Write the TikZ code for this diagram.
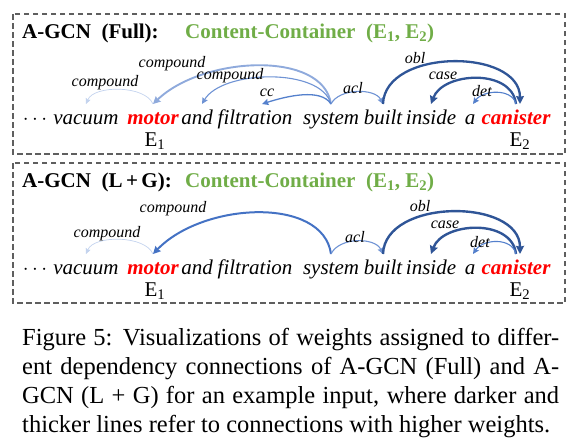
\documentclass[tikz,border=0pt]{standalone}
\usepackage{fontspec}
\setmainfont{Liberation Serif}
\usepackage{xcolor}
\usetikzlibrary{arrows.meta, positioning, calc}
\definecolor{entred}{HTML}{FF0000}
\definecolor{relgreen}{HTML}{70AD47}
\definecolor{boxgray}{HTML}{5F5F5F}
\definecolor{wfaint}{HTML}{C3D3EE}
\definecolor{wlight}{HTML}{8FAADC}
\definecolor{wmid}{HTML}{6F93D4}
\definecolor{wmore}{HTML}{5480CC}
\definecolor{wstrong}{HTML}{4472C4}
\definecolor{wdark}{HTML}{2F5597}
\tikzset{
  panel/.style={draw=boxgray, line width=1.1pt, dash pattern=on 5.5pt off 3.5pt},
  word/.style={font=\fontsize{21}{25}\selectfont\itshape, inner sep=0pt, anchor=base,
               text height=15pt, text depth=4pt, outer ysep=5pt, outer xsep=0pt},
  entity/.style={word, font=\fontsize{21}{25}\selectfont\bfseries\itshape, text=entred},
  entmark/.style={font=\fontsize{21}{25}\selectfont, inner sep=0pt, anchor=base},
  headline/.style={font=\fontsize{21}{25}\selectfont\bfseries, inner sep=0pt, anchor=base west},
  relation/.style={headline, text=relgreen},
  dep/.style={line width=#1, -{Stealth[length=4.5pt 1.5, width=4pt 1.7, inset=0.8pt]}},
  dep/.default=1.1pt,
  deplabel/.style={font=\fontsize{16}{18}\selectfont\itshape, inner sep=0pt},
}

\begin{document}
\begin{tikzpicture}[x=1pt, y=-1pt]
\useasboundingbox (0,0) rectangle (576,447);

% ── 面板 A：A-GCN (Full) ──────────────────────────────────────────────────────
\draw[panel] (13,14) rectangle (565,154);
\node[headline] (headA) at (22,38) {A-GCN~~(Full):};
\node[relation] (relA) at (185,38) {Content-Container~~(E\textsubscript{1}, E\textsubscript{2})};

\node[word]   (dotsA)     at (35,124)  {$\cdots$};
\node[word]   (vacuumA)   at (86,124)  {vacuum};
\node[entity] (motorA)    at (153,124) {motor};
\node[word]   (andA)      at (197,124) {and};
\node[word]   (filterA)   at (255,124) {filtration};
\node[word]   (systemA)   at (331,124) {system};
\node[word]   (builtA)    at (383,124) {built};
\node[word]   (insideA)   at (431,124) {inside};
\node[word]   (aA)        at (470,124) {a};
\node[entity] (canisterA) at (516,124) {canister};
\node[entmark] (eoneA) at (155,146) {E\textsubscript{1}};
\node[entmark] (etwoA) at (520,146) {E\textsubscript{2}};

% 依存弧（颜色越深、线越粗 = 权重越高）
\draw[dep=0.7pt, draw=wfaint] (motorA.north) .. controls +(-8,-19) and +(8,-19) .. (vacuumA.north);
\draw[dep=1.9pt, draw=wlight] (systemA.north) .. controls +(-8,-54) and +(50,-48) .. (motorA.north);
\draw[dep=1.1pt, draw=wmid]   (systemA.north) .. controls +(-10,-37) and +(20,-34) .. ([xshift=5pt]andA.north);
\draw[dep=1.3pt, draw=wmore]  (systemA.north) .. controls +(-10,-16) and +(25,-8) .. ([xshift=7pt]filterA.north);
\draw[dep=1.1pt, draw=wmid]   (systemA.north) .. controls +(8,-16) and +(-8,-16) .. (builtA.north);
\draw[dep=2.3pt, draw=wdark]  (builtA.north) .. controls +(2,-56) and +(0,-56) .. ([xshift=4pt]canisterA.north);
\draw[dep=2.3pt, draw=wdark]  (canisterA.north) .. controls +(-4,-36) and +(12,-32) .. (insideA.north);
\draw[dep=1.1pt, draw=wmore]  (canisterA.north) .. controls +(-4,-16) and +(10,-14) .. ([xshift=3pt]aA.north);

\node[deplabel] (cmpvA)  at (105,83)  {compound};
\node[deplabel] (cmpmA)  at (172,64)  {compound};
\node[deplabel] (cmpfA)  at (230,76)  {compound};
\node[deplabel] (ccA)    at (267,93)  {cc};
\node[deplabel] (aclA)   at (353,88)  {acl};
\node[deplabel] (oblA)   at (415,58)  {obl};
\node[deplabel] (caseA)  at (443,76)  {case};
\node[deplabel] (detA)   at (482,91)  {det};

% ── 面板 B：A-GCN (L + G) ─────────────────────────────────────────────────────
\draw[panel] (13,163) rectangle (565,303);
\node[headline] (headB) at (22,187) {A-GCN~~(L\,+\,G):};
\node[relation] (relB) at (185,187) {Content-Container~~(E\textsubscript{1}, E\textsubscript{2})};

\node[word]   (dotsB)     at (35,274)  {$\cdots$};
\node[word]   (vacuumB)   at (86,274)  {vacuum};
\node[entity] (motorB)    at (153,274) {motor};
\node[word]   (andB)      at (197,274) {and};
\node[word]   (filterB)   at (255,274) {filtration};
\node[word]   (systemB)   at (331,274) {system};
\node[word]   (builtB)    at (383,274) {built};
\node[word]   (insideB)   at (431,274) {inside};
\node[word]   (aB)        at (470,274) {a};
\node[entity] (canisterB) at (516,274) {canister};
\node[entmark] (eoneB) at (155,296) {E\textsubscript{1}};
\node[entmark] (etwoB) at (520,296) {E\textsubscript{2}};

\draw[dep=0.7pt, draw=wfaint]  (motorB.north) .. controls +(-8,-19) and +(8,-19) .. (vacuumB.north);
\draw[dep=2.0pt, draw=wstrong] (systemB.north) .. controls +(-8,-58) and +(50,-52) .. (motorB.north);
\draw[dep=1.1pt, draw=wmid]    (systemB.north) .. controls +(8,-17) and +(-8,-17) .. (builtB.north);
\draw[dep=2.4pt, draw=wdark]   (builtB.north) .. controls +(2,-56) and +(0,-56) .. ([xshift=4pt]canisterB.north);
\draw[dep=2.4pt, draw=wdark]   (canisterB.north) .. controls +(-4,-36) and +(12,-32) .. (insideB.north);
\draw[dep=1.1pt, draw=wmore]   (canisterB.north) .. controls +(-4,-17) and +(10,-15) .. ([xshift=3pt]aB.north);

\node[deplabel] (cmpvB)  at (107,234) {compound};
\node[deplabel] (cmpmB)  at (173,209) {compound};
\node[deplabel] (aclB)   at (355,237) {acl};
\node[deplabel] (oblB)   at (420,206) {obl};
\node[deplabel] (caseB)  at (445,225) {case};
\node[deplabel] (detB)   at (480,242) {det};

% ── 图注 ──────────────────────────────────────────────────────────────────────
\node[anchor=north west, inner sep=0pt, text width=537pt, align=justify,
      font=\fontsize{24.5}{29}\selectfont] (caption) at (22,328)
  {\parfillskip=0pt Figure 5: Visualizations of weights assigned to differ-\linebreak
   ent dependency connections of A-GCN (Full) and A-\linebreak
   GCN (L + G) for an example input, where darker and\linebreak
   thicker lines refer to connections with higher weights.};

\end{tikzpicture}
\end{document}
